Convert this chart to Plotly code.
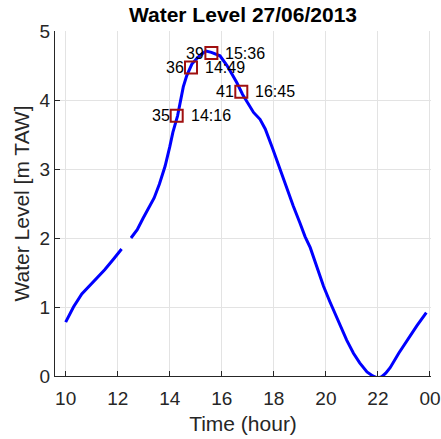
import plotly.graph_objects as go

# Water level time series (hours, m TAW); None marks the data gap
time_h = [10.0, 10.3, 10.62, 11.0, 11.5, 11.85, 12.15, None,
          12.51, 12.75, 12.98, 13.2, 13.4, 13.6, 13.82, 14.0, 14.12, 14.3,
          14.52, 14.65, 14.85, 15.04, 15.2, 15.4, 15.6, 15.93, 16.2, 16.4,
          16.58, 16.8, 17.0, 17.22, 17.47, 17.67, 17.95, 18.24, 18.5, 18.75,
          19.0, 19.2, 19.4, 19.65, 19.91, 20.15, 20.42, 20.55, 20.8, 21.06,
          21.3, 21.58, 21.8, 22.0, 22.15, 22.3, 22.47, 22.8, 23.12, 23.5, 23.86]
level_m = [0.78, 1.0, 1.19, 1.34, 1.54, 1.70, 1.84, None,
           2.0, 2.12, 2.29, 2.45, 2.58, 2.78, 3.04, 3.32, 3.53, 3.77,
           4.19, 4.35, 4.52, 4.60, 4.66, 4.71, 4.69, 4.64, 4.50, 4.37,
           4.25, 4.08, 3.95, 3.82, 3.72, 3.58, 3.30, 2.99, 2.72, 2.46,
           2.22, 2.02, 1.86, 1.58, 1.30, 1.08, 0.84, 0.74, 0.52, 0.33,
           0.19, 0.06, 0.0, -0.03, -0.01, 0.04, 0.12, 0.33, 0.52, 0.73, 0.92]

# Marked samples
mark_ids = ["35", "36", "39", "41"]
mark_times = ["14:16", "14:49", "15:36", "16:45"]
mark_x = [14.267, 14.817, 15.6, 16.75]
mark_y = [3.77, 4.47, 4.68, 4.12]

tick_vals = [10, 12, 14, 16, 18, 20, 22, 24]
tick_text = ["10", "12", "14", "16", "18", "20", "22", "00"]

FONT = "Liberation Sans, Arial, sans-serif"
AX = "#262626"

fig = go.Figure()
fig.add_trace(go.Scatter(x=time_h, y=level_m, mode="lines",
                         line=dict(color="#0000ff", width=3),
                         connectgaps=False, showlegend=False, hoverinfo="skip"))
fig.add_trace(go.Scatter(x=mark_x, y=mark_y, mode="markers",
                         marker=dict(symbol="square-open", size=12,
                                     color="#a01010", line=dict(width=2, color="#a01010")),
                         showlegend=False, cliponaxis=False, hoverinfo="skip"))

annotations = []
for i in range(len(mark_ids)):
    annotations.append(dict(x=mark_x[i], y=mark_y[i], xref="x", yref="y",
                            text=mark_ids[i], showarrow=False, xanchor="right",
                            yanchor="middle", xshift=-5,
                            font=dict(family=FONT, size=16, color="#000000")))
    annotations.append(dict(x=mark_x[i], y=mark_y[i], xref="x", yref="y",
                            text=mark_times[i], showarrow=False, xanchor="left",
                            yanchor="middle", xshift=12,
                            font=dict(family=FONT, size=16, color="#000000")))

fig.update_layout(
    width=441, height=439,
    margin=dict(l=55, r=10, t=31, b=63, autoexpand=False),
    paper_bgcolor="white", plot_bgcolor="white",
    font=dict(family=FONT, color=AX),
    title=dict(text="<b>Water Level 27/06/2013</b>", x=0.5, xref="paper",
               xanchor="center", y=1 - 15 / 439, yref="container", yanchor="middle",
               font=dict(family=FONT, size=21, color="#000000")),
    annotations=annotations,
)
fig.update_xaxes(range=[9.59, 24.04], tickvals=tick_vals, ticktext=tick_text,
                 automargin=False,
                 showline=True, linecolor=AX, linewidth=1, mirror=False,
                 ticks="inside", ticklen=5, tickcolor=AX, ticklabelstandoff=5,
                 showgrid=True, gridcolor="#e3e3e3", gridwidth=1, zeroline=False,
                 tickfont=dict(family=FONT, size=19, color=AX),
                 title=dict(text="Time (hour)", font=dict(family=FONT, size=21, color=AX),
                            standoff=8))
fig.update_yaxes(range=[0, 5], tickvals=[0, 1, 2, 3, 4, 5],
                 automargin=False,
                 showline=True, linecolor=AX, linewidth=1, mirror=False,
                 ticks="inside", ticklen=5, tickcolor=AX,
                 showgrid=True, gridcolor="#e3e3e3", gridwidth=1, zeroline=False,
                 tickfont=dict(family=FONT, size=19, color=AX),
                 title=dict(text="Water Level [m TAW]", font=dict(family=FONT, size=21, color=AX),
                            standoff=4))

fig.write_html("out.html", config={"displayModeBar": False},
               post_script="document.body.style.margin='0';document.body.style.overflow='hidden';")
